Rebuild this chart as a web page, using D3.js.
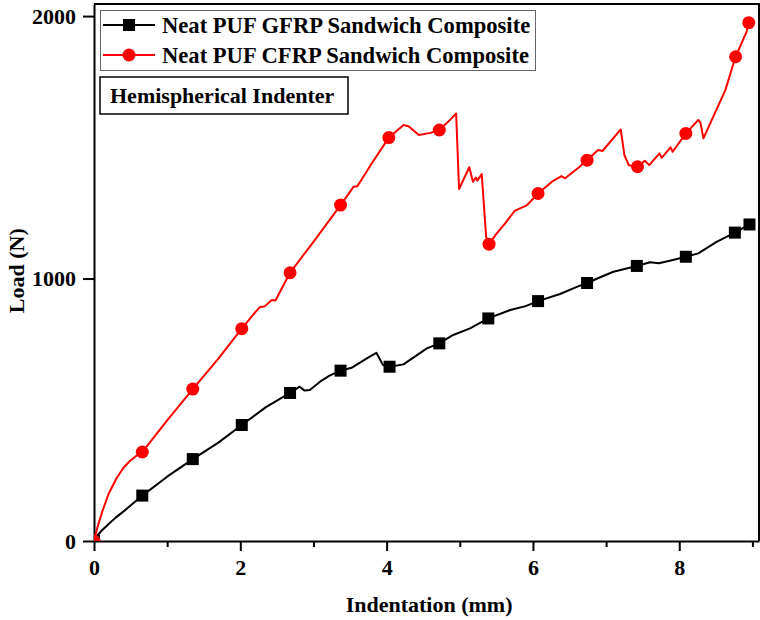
<!DOCTYPE html>
<html>
<head>
<meta charset="utf-8">
<script src="https://cdn.jsdelivr.net/npm/d3@7"></script>
<style>
  html, body { margin: 0; padding: 0; background: #fff; }
  svg { display: block; font-family: "Liberation Serif", "Times New Roman", serif; font-weight: bold; }
</style>
</head>
<body>
<svg id="chart" width="760" height="620"></svg>
<script>
// ---------- data ----------
const seriesNames = ["Neat PUF GFRP Sandwich Composite", "Neat PUF CFRP Sandwich Composite"];
const annotation = "Hemispherical Indenter";
const xTitle = "Indentation (mm)";
const yTitle = "Load (N)";
const xTicks = [0, 2, 4, 6, 8];
const xMinorTicks = [1, 3, 5, 7, 9];
const yTicks = [0, 1000, 2000];

const gfrpX = [0, 0.05, 0.1, 0.2, 0.3, 0.4, 0.5, 0.66, 1.0, 1.35, 1.7, 2.02, 2.35, 2.68, 2.81, 2.88, 2.95, 3.09, 3.22, 3.37, 3.52, 3.73, 3.86, 3.95, 4.04, 4.23, 4.55, 4.72, 4.91, 5.14, 5.39, 5.69, 5.9, 6.07, 6.37, 6.6, 6.74, 6.92, 7.1, 7.42, 7.6, 7.72, 7.9, 8.09, 8.26, 8.51, 8.76, 8.96];
const gfrpY = [0, 22, 38, 65, 90, 112, 135, 173, 245, 312, 375, 442, 510, 564, 588, 573, 575, 607, 630, 649, 660, 696, 717, 670, 664, 673, 734, 753, 785, 810, 848, 880, 895, 914, 941, 968, 983, 1005, 1026, 1048, 1062, 1058, 1070, 1083, 1096, 1140, 1175, 1206];
const gfrpMarkX = [0, 0.66, 1.35, 2.02, 2.68, 3.37, 4.04, 4.72, 5.39, 6.07, 6.74, 7.42, 8.09, 8.76, 8.96];
const gfrpMarkY = [0, 173, 312, 442, 564, 649, 664, 753, 848, 914, 983, 1048, 1083, 1175, 1206];

const cfrpX = [0, 0.05, 0.12, 0.2, 0.31, 0.4, 0.49, 0.58, 0.66, 1.0, 1.35, 1.7, 2.02, 2.2, 2.27, 2.33, 2.43, 2.48, 2.68, 3.0, 3.37, 3.55, 3.6, 3.63, 3.8, 4.03, 4.18, 4.23, 4.3, 4.44, 4.6, 4.72, 4.84, 4.95, 4.99, 5.13, 5.18, 5.22, 5.24, 5.30, 5.36, 5.40, 5.5, 5.62, 5.75, 5.92, 6.07, 6.26, 6.39, 6.44, 6.63, 6.74, 6.89, 6.95, 7.20, 7.25, 7.31, 7.43, 7.53, 7.59, 7.73, 7.76, 7.88, 7.91, 8.09, 8.26, 8.29, 8.33, 8.63, 8.77, 8.92, 8.95];
const cfrpY = [0, 55, 118, 180, 240, 278, 305, 325, 339, 460, 579, 695, 809, 870, 892, 893, 918, 916, 1022, 1140, 1280, 1350, 1352, 1365, 1440, 1537, 1573, 1585, 1580, 1547, 1555, 1566, 1597, 1629, 1341, 1424, 1369, 1385, 1373, 1398, 1159, 1131, 1170, 1210, 1258, 1280, 1324, 1369, 1390, 1382, 1424, 1451, 1490, 1486, 1568, 1470, 1432, 1426, 1449, 1432, 1477, 1460, 1500, 1483, 1553, 1604, 1594, 1534, 1718, 1845, 1940, 1975];
const cfrpMarkX = [0, 0.66, 1.35, 2.02, 2.68, 3.37, 4.03, 4.72, 5.40, 6.07, 6.74, 7.43, 8.09, 8.77, 8.95];
const cfrpMarkY = [0, 339, 579, 809, 1022, 1280, 1537, 1566, 1131, 1324, 1451, 1426, 1553, 1845, 1975];

// ---------- layout ----------
const margin = { left: 94, top: 4, right: 1, bottom: 79 };
const W = 760, H = 620;
const pw = W - margin.left - margin.right;
const ph = H - margin.top - margin.bottom;
const FS = 22;

const svg = d3.select("#chart");
const g = svg.append("g").attr("transform", `translate(${margin.left},${margin.top})`);

const x = d3.scaleLinear().domain([0, 9.09]).range([0, pw]);
const y = d3.scaleLinear().domain([0, 2046]).range([ph, 0]);

svg.append("defs").append("clipPath").attr("id", "clip")
  .append("rect").attr("x", 0).attr("y", 0).attr("width", pw).attr("height", ph);

// frame (top and right)
g.append("path")
  .attr("d", `M0,0H${pw}V${ph}`)
  .attr("fill", "none").attr("stroke", "#000").attr("stroke-width", 2);

// x axis
g.append("g").attr("transform", `translate(0,${ph})`)
  .call(d3.axisBottom(x).tickValues(xTicks).tickFormat(d3.format("d")).tickSize(10).tickSizeOuter(0).tickPadding(8));
g.append("g").attr("transform", `translate(0,${ph})`)
  .call(d3.axisBottom(x).tickValues(xMinorTicks).tickFormat("").tickSize(6).tickSizeOuter(0))
  .call(s => s.select(".domain").remove());

// y axis
g.append("g")
  .call(d3.axisLeft(y).tickValues(yTicks).tickFormat(d3.format("d")).tickSize(11).tickSizeOuter(0).tickPadding(7));

svg.selectAll(".domain").attr("stroke-width", 2);
svg.selectAll(".tick line").attr("stroke-width", 2);
svg.selectAll(".tick text")
  .attr("font-family", "Liberation Serif, Times New Roman, serif")
  .attr("font-weight", "bold").attr("font-size", FS).attr("fill", "#000");

// axis titles
svg.append("text").attr("x", margin.left + x(4.58)).attr("y", 612)
  .attr("text-anchor", "middle").attr("font-size", FS).text(xTitle);
svg.append("text")
  .attr("transform", `translate(24,${margin.top + y(1030)}) rotate(-90)`)
  .attr("text-anchor", "middle").attr("font-size", FS).text(yTitle);

// series
const line = d3.line().x(d => x(d[0])).y(d => y(d[1]));
const plot = g.append("g").attr("clip-path", "url(#clip)");

const gfrp = gfrpX.map((v, i) => [v, gfrpY[i]]);
const cfrp = cfrpX.map((v, i) => [v, cfrpY[i]]);
const gfrpM = gfrpMarkX.map((v, i) => [v, gfrpMarkY[i]]);
const cfrpM = cfrpMarkX.map((v, i) => [v, cfrpMarkY[i]]);

const sq = 12, rad = 6.5;
plot.append("path").datum(gfrp).attr("d", line)
  .attr("fill", "none").attr("stroke", "#000").attr("stroke-width", 2).attr("stroke-linejoin", "round");
plot.selectAll(".sq").data(gfrpM).join("rect")
  .attr("x", d => x(d[0]) - sq / 2).attr("y", d => y(d[1]) - sq / 2)
  .attr("width", sq).attr("height", sq).attr("fill", "#000");

plot.append("path").datum(cfrp).attr("d", line)
  .attr("fill", "none").attr("stroke", "#ff0000").attr("stroke-width", 2).attr("stroke-linejoin", "round");
plot.selectAll(".ci").data(cfrpM).join("circle")
  .attr("cx", d => x(d[0])).attr("cy", d => y(d[1])).attr("r", rad).attr("fill", "#ff0000");

// legend
const lg = svg.append("g");
lg.append("rect").attr("x", 100.5).attr("y", 10.5).attr("width", 435).attr("height", 60)
  .attr("fill", "#fff").attr("stroke", "#666").attr("stroke-width", 1);
const colors = ["#000", "#ff0000"];
seriesNames.forEach((name, i) => {
  const cy = 25 + i * 30;
  lg.append("line").attr("x1", 103).attr("x2", 155).attr("y1", cy).attr("y2", cy)
    .attr("stroke", colors[i]).attr("stroke-width", 2);
  if (i === 0) {
    lg.append("rect").attr("x", 129 - sq / 2).attr("y", cy - sq / 2).attr("width", sq).attr("height", sq).attr("fill", "#000");
  } else {
    lg.append("circle").attr("cx", 129).attr("cy", cy).attr("r", rad).attr("fill", "#ff0000");
  }
  lg.append("text").attr("x", 162).attr("y", cy + 8).attr("font-size", 22.6).text(name);
});

// annotation box
svg.append("rect").attr("x", 100).attr("y", 77).attr("width", 248).attr("height", 37)
  .attr("fill", "#fff").attr("stroke", "#000").attr("stroke-width", 1.5);
svg.append("text").attr("x", 110).attr("y", 103).attr("font-size", FS).text(annotation);
</script>
</body>
</html>
